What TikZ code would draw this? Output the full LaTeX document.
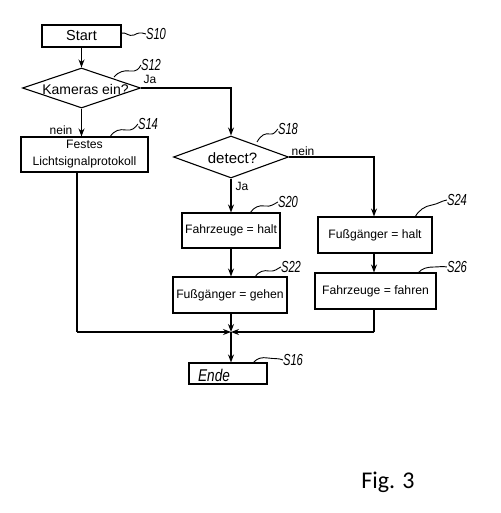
\documentclass[tikz,border=0pt]{standalone}
\usepackage{fontspec}
\setmainfont{Liberation Sans}
\newfontfamily\figfont{Carlito}
\usetikzlibrary{shapes.geometric,arrows.meta,calc}
\tikzset{
  box/.style={draw, line width=1.1pt, rectangle, inner sep=0pt, font=\fontsize{12.2}{17}\selectfont, align=center},
  dia/.style={draw, line width=1.1pt, diamond, inner sep=0pt},
  diatext/.style={font=\fontsize{14}{17}\selectfont, inner sep=0pt},
  flow/.style={line width=1.1pt, -{Stealth[length=8pt,width=6pt]}},
  plain/.style={line width=1.1pt},
  lead/.style={line width=0.9pt},
  slab/.style={font=\fontsize{16}{16}\selectfont\itshape, xscale=0.7, inner sep=0pt},
  lab/.style={font=\fontsize{12}{12}\selectfont, inner sep=0pt}
}
\begin{document}
\begin{tikzpicture}[x=1pt,y=-1pt]
\useasboundingbox (0,0) rectangle (500,513);
% nodes
\node[box, minimum width=79pt, minimum height=22pt, font=\fontsize{14.5}{17}\selectfont] (start) at (81.5,36) {Start};
\node[dia, minimum width=118pt, minimum height=40pt] (kam) at (81.5,88) {};
\node[diatext] (kamt) at (85.5,89) {Kameras ein?};
\node[box, minimum width=127pt, minimum height=35pt] (festes) at (84.5,154.5) {Festes\\Lichtsignalprotokoll};
\node[dia, minimum width=115pt, minimum height=42pt] (det) at (231,157) {};
\node[diatext, font=\fontsize{15}{17}\selectfont] (dett) at (232.5,158) {detect?};
\node[box, minimum width=98pt, minimum height=35pt] (fh) at (231,230.5) {Fahrzeuge = halt};
\node[box, minimum width=114pt, minimum height=36pt] (fg) at (230,295) {Fußgänger = gehen};
\node[box, minimum width=114pt, minimum height=36pt] (fgh) at (375,235) {Fußgänger = halt};
\node[box, minimum width=121pt, minimum height=36pt] (ff) at (375.5,291) {Fahrzeuge = fahren};
\node[box, minimum width=78pt, minimum height=21pt] (ende) at (228,373.5) {};
\node[font=\fontsize{17}{17}\selectfont\itshape, anchor=west, xscale=0.8, inner sep=0pt] (endet) at (198,375) {Ende};
\coordinate (m) at (231,332);
\coordinate (fl) at (77,332);
\coordinate (fr) at (374,332);
% connectors
\draw[flow] (start.south -| kam.north) -- (kam.north);
\draw[flow] (kam.south) -- (kam.south |- festes.north);
\draw[flow] (kam.east) -| (det.north);
\draw[flow] (det.south) -- (fh.north);
\draw[flow] (det.east) -| (fgh.north -| fr);
\draw[flow] (fh.south) -- (fg.north -| fh.south);
\draw[flow] (fgh.south -| fr) -- (ff.north -| fr);
\draw[flow] (fg.south -| m) -- (m);
\draw[plain] (festes.south -| fl) -- (fl);
\draw[flow] (fl) -- (m);
\draw[plain] (ff.south -| fr) -- (fr);
\draw[flow] (fr) -- (m);
\draw[flow] (m) -- (m |- ende.north);
% branch labels
\node[lab] (ja1) at (150,79.5) {Ja};
\node[lab] (nein1) at (61,130) {nein};
\node[lab] (ja2) at (242,186) {Ja};
\node[lab] (nein2) at (303,151) {nein};
% step labels
\node[slab] (s10) at (156,34) {S10};
\node[slab] (s12) at (151,65) {S12};
\node[slab] (s14) at (148,124) {S14};
\node[slab] (s18) at (288,129) {S18};
\node[slab] (s20) at (288,202) {S20};
\node[slab] (s22) at (291,267) {S22};
\node[slab] (s24) at (457,200) {S24};
\node[slab] (s26) at (457,267) {S26};
\node[slab] (s16) at (293,360) {S16};
% leaders
\draw[lead] (121,33) .. controls (127,32) and (128,37) .. (134,35) .. controls (138,33) and (140,32) .. (s10.west);
\draw[lead] (114,77) .. controls (118,72) and (124,70) .. (130,71) .. controls (136,72) and (139,69) .. (s12.west);
\draw[lead] (110,137) .. controls (114,130) and (120,129) .. (126,130) .. controls (132,131) and (135,128) .. (s14.west);
\draw[lead] (257,142) .. controls (261,135) and (265,133) .. (270,134) .. controls (274,135) and (276,131) .. (s18.west);
\draw[lead] (250,213) .. controls (254,207) and (259,205) .. (265,206) .. controls (271,207) and (274,204) .. (s20.west);
\draw[lead] (255,277) .. controls (259,271) and (264,270) .. (269,271) .. controls (275,272) and (278,268) .. (s22.west);
\draw[lead] (415,217) .. controls (419,210) and (425,206) .. (432,205) .. controls (438,204) and (441,201) .. (s24.west);
\draw[lead] (418,273) .. controls (422,268) and (428,267) .. (434,267) .. controls (440,267) and (442,266) .. (s26.west);
\draw[lead] (253,363) .. controls (257,358) and (262,357) .. (268,358) .. controls (274,359) and (279,358) .. (s16.west);
% figure caption
\node[font=\figfont\fontsize{24}{24}\selectfont, inner sep=0pt] (fig) at (388,482) {Fig. 3};
\end{tikzpicture}
\end{document}
